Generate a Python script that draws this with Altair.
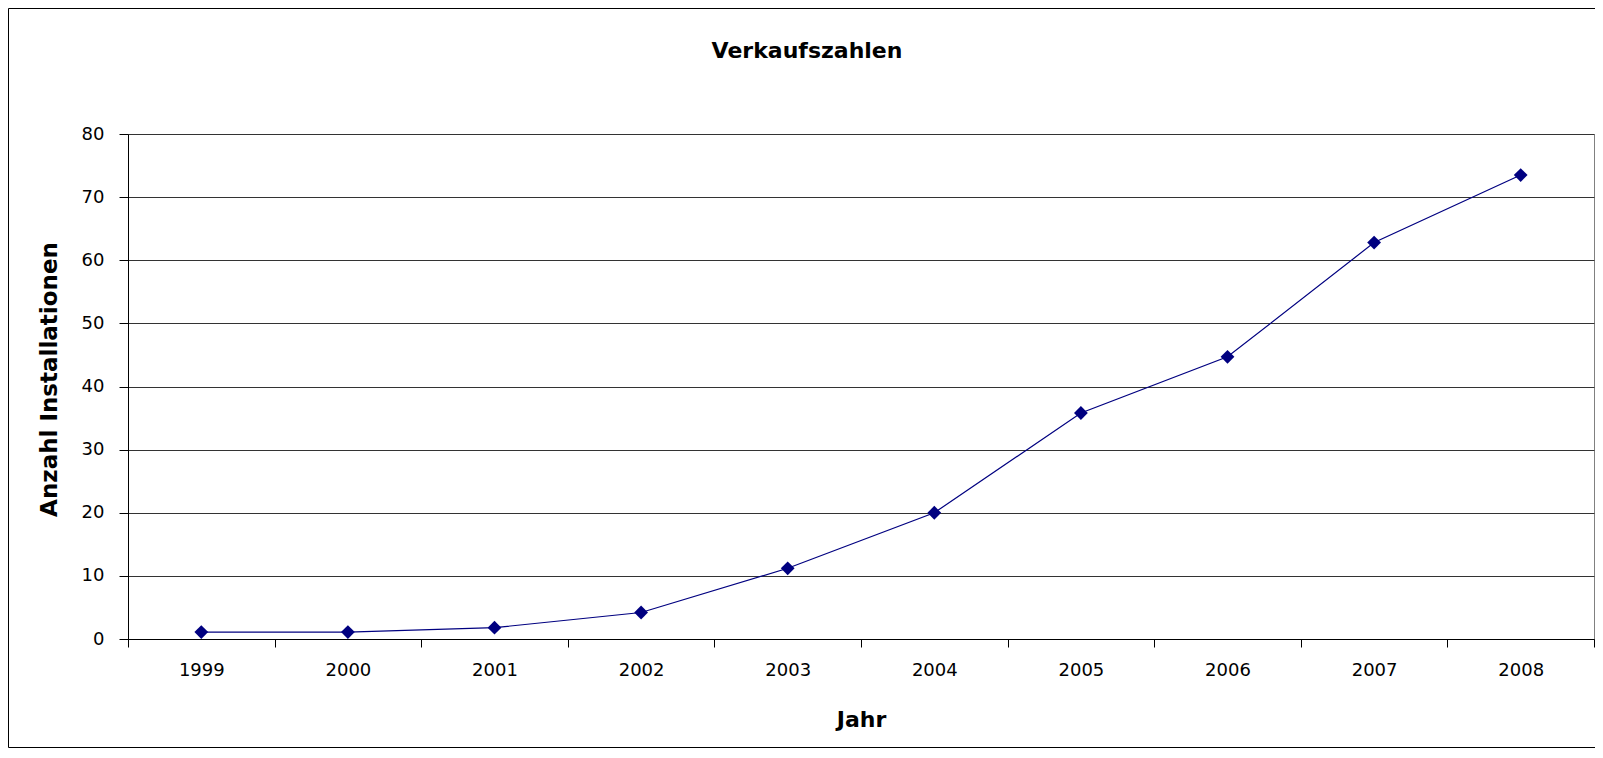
import altair as alt
import pandas as pd

# ---- data ----
years = ["1999", "2000", "2001", "2002", "2003", "2004", "2005", "2006", "2007", "2008"]
installs = [1.1, 1.1, 1.8, 4.2, 11.2, 20.0, 35.8, 44.7, 62.8, 73.5]
y_ticks = [0, 10, 20, 30, 40, 50, 60, 70, 80]
chart_title = "Verkaufszahlen"
x_title = "Jahr"
y_title = "Anzahl Installationen"

df = pd.DataFrame({"Jahr": years, "Anzahl": installs})
one = pd.DataFrame({"t": [chart_title]})

# ---- layout ----
W, H = 1466, 505
PL, PT, PR, PB = 120, 126, 1, 110
FONT = "DejaVu Sans"
NAVY = "#000080"

x_enc = alt.X(
    "Jahr:O",
    sort=years,
    scale=alt.Scale(type="band", paddingInner=0, paddingOuter=0),
    axis=alt.Axis(
        title=x_title,
        labelAngle=0,
        tickBand="extent",
        tickSize=8,
        labelPadding=14,
        labelFont=FONT,
        labelFontSize=18,
        labelColor="black",
        domainColor="black",
        tickColor="black",
        grid=False,
        titleFont=FONT,
        titleFontSize=22,
        titleFontWeight="bold",
        titleColor="black",
        titleBaseline="alphabetic",
        titleY=87,
    ),
)

y_enc = alt.Y(
    "Anzahl:Q",
    scale=alt.Scale(domain=[0, 80], nice=False),
    axis=alt.Axis(
        title=y_title,
        values=y_ticks,
        tickSize=9,
        labelPadding=15,
        labelFont=FONT,
        labelFontSize=18,
        labelColor="black",
        domainColor="black",
        tickColor="black",
        grid=True,
        gridColor="#333333",
        gridWidth=1,
        titleFont=FONT,
        titleFontSize=23,
        titleFontWeight="bold",
        titleColor="black",
        titleBaseline="alphabetic",
        titleAngle=270,
        titleX=-72,
        titleY=245,
    ),
)

base = alt.Chart(df)
line = base.mark_line(color=NAVY, strokeWidth=1.2).encode(x=x_enc, y=y_enc)
pts = base.mark_point(shape="diamond", filled=True, size=190, color=NAVY, opacity=1).encode(x=x_enc, y=y_enc)

frame = alt.Chart(one).mark_rect(fillOpacity=0, stroke="black", strokeWidth=1).encode(
    x=alt.value(-PL + 0.5), x2=alt.value(W + PR + 30),
    y=alt.value(-PT + 0.5), y2=alt.value(H + PB - 1.5),
)

title_mark = alt.Chart(one).mark_text(
    font=FONT, fontSize=22, fontWeight="bold", color="black",
    align="center", baseline="alphabetic",
).encode(text="t:N", x=alt.value(679), y=alt.value(-76))

chart = alt.layer(frame, line, pts, title_mark).properties(
    width=W,
    height=H,
    padding={"left": PL, "top": PT, "right": PR, "bottom": PB},
    autosize=alt.AutoSizeParams(type="none"),
    background="white",
).configure_view(stroke="#808080", strokeWidth=1)

chart.save("out.html", embed_options={"renderer": "svg", "actions": False})
